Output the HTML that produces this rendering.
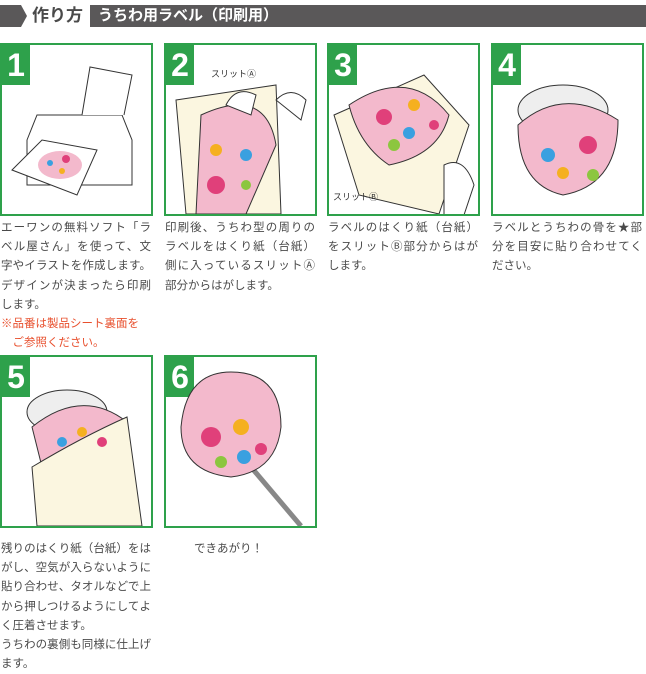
<!DOCTYPE html>
<html><head><meta charset="utf-8"><style>
body{margin:0;width:646px;height:667px;background:#fff;position:relative;overflow:hidden;font-family:"Liberation Sans","Noto Sans CJK JP",sans-serif}
.box{position:absolute;width:149px;height:169px;border:2px solid #2ea14b;background:#fff;overflow:hidden}
.num{position:absolute;left:0;top:0;width:28px;height:40px;background:#2ea14b;color:#fff;font-weight:bold;font-size:32px;line-height:40px;text-align:center;font-family:"Liberation Sans",sans-serif}
.txt{position:absolute;font-size:11.5px;line-height:19.2px;color:#4a4a4a;width:150px;white-space:nowrap}
.txt div.j{text-align:justify;text-align-last:justify}
.red{color:#e8502e}
svg{position:absolute;left:0;top:0}
</style></head><body>
<div style="position:absolute;left:0;top:5px;width:21px;height:22px;background:#5a5859"></div>
<div style="position:absolute;left:21px;top:5px;width:0;height:0;border-top:11px solid transparent;border-bottom:11px solid transparent;border-left:6px solid #5a5859"></div>
<div style="position:absolute;left:32px;top:3px;font-size:17px;font-weight:bold;color:#4a4a4a;line-height:26px">作り方</div>
<div style="position:absolute;left:90px;top:5px;width:556px;height:22px;background:#5a5859;color:#fff;font-size:15px;font-weight:bold;line-height:22px;padding-left:8px;box-sizing:border-box">うちわ用ラベル（印刷用）</div>

<div class="box" style="left:0;top:43px"><div class="num">1</div>
<svg width="149" height="169"><path d="M25 95 L35 70 L120 70 L130 95 L130 140 L25 140 Z" fill="#fff" stroke="#333"/><path d="M80 70 L88 22 L130 30 L122 70" fill="#fff" stroke="#333"/><path d="M10 125 L40 95 L95 105 L75 150 Z" fill="#fff" stroke="#333"/><ellipse cx="58" cy="120" rx="22" ry="14" fill="#f3b9cc"/><circle cx="48" cy="118" r="3" fill="#3aa0e0"/><circle cx="60" cy="126" r="3" fill="#f5b020"/><circle cx="64" cy="114" r="4" fill="#e0407a"/></svg></div>
<div class="box" style="left:164px;top:43px"><div class="num">2</div>
<svg width="149" height="169"><path d="M10 55 L110 40 L115 169 L20 169 Z" fill="#fbf6e0" stroke="#333"/><path d="M35 70 Q100 40 110 100 L80 169 L30 169 Z" fill="#f3b9cc" stroke="#333"/><circle cx="50" cy="140" r="9" fill="#e0407a"/><circle cx="80" cy="110" r="6" fill="#3aa0e0"/><circle cx="50" cy="105" r="6" fill="#f5b020"/><circle cx="80" cy="140" r="5" fill="#8cc63f"/><text x="45" y="32" font-size="9" fill="#333">スリットⒶ</text><path d="M60 60 q10-20 30-10 l-5 20z" fill="#fff" stroke="#333"/><path d="M110 55 q15-15 30 0 l-5 20z" fill="#fff" stroke="#333"/></svg></div>
<div class="box" style="left:327px;top:43px"><div class="num">3</div>
<svg width="149" height="169"><path d="M5 70 L95 30 L140 80 L110 169 L30 150 Z" fill="#fbf6e0" stroke="#333"/><path d="M20 60 Q80 20 120 70 Q110 110 60 120 Q30 100 20 60Z" fill="#f3b9cc" stroke="#333"/><circle cx="55" cy="72" r="8" fill="#e0407a"/><circle cx="85" cy="60" r="6" fill="#f5b020"/><circle cx="80" cy="88" r="6" fill="#3aa0e0"/><circle cx="65" cy="100" r="6" fill="#8cc63f"/><circle cx="105" cy="80" r="5" fill="#e0407a"/><text x="4" y="155" font-size="9" fill="#333">スリットⒷ</text><path d="M115 120 q20-10 30 20 l-10 30 -20 0z" fill="#fff" stroke="#333"/></svg></div>
<div class="box" style="left:491px;top:43px"><div class="num">4</div>
<svg width="149" height="169"><ellipse cx="70" cy="65" rx="45" ry="25" fill="#eee" stroke="#333"/><path d="M25 80 Q70 40 125 75 Q125 140 70 150 Q25 140 25 80Z" fill="#f3b9cc" stroke="#333"/><circle cx="55" cy="110" r="7" fill="#3aa0e0"/><circle cx="95" cy="100" r="9" fill="#e0407a"/><circle cx="70" cy="128" r="6" fill="#f5b020"/><circle cx="100" cy="130" r="6" fill="#8cc63f"/></svg></div>

<div class="txt" style="left:1px;top:219px"><div class="j">エーワンの無料ソフト「ラ</div><div class="j">ベル屋さん」を使って、文</div><div class="j">字やイラストを作成します。</div><div class="j">デザインが決まったら印刷</div><div>します。</div><div class="red">※品番は製品シート裏面を</div><div class="red">　ご参照ください。</div></div>
<div class="txt" style="left:165px;top:219px"><div class="j">印刷後、うちわ型の周りの</div><div class="j">ラベルをはくり紙（台紙）</div><div class="j">側に入っているスリットⒶ</div><div>部分からはがします。</div></div>
<div class="txt" style="left:328px;top:219px"><div class="j">ラベルのはくり紙（台紙）</div><div class="j">をスリットⒷ部分からはが</div><div>します。</div></div>
<div class="txt" style="left:492px;top:219px"><div class="j">ラベルとうちわの骨を★部</div><div class="j">分を目安に貼り合わせてく</div><div>ださい。</div></div>

<div class="box" style="left:0;top:355px"><div class="num">5</div>
<svg width="149" height="169"><ellipse cx="65" cy="55" rx="40" ry="22" fill="#eee" stroke="#333"/><path d="M30 70 Q80 30 125 65 L130 100 Q80 120 40 110Z" fill="#f3b9cc" stroke="#333"/><path d="M30 110 Q80 80 125 60 L140 169 L35 169 Z" fill="#fbf6e0" stroke="#333"/><circle cx="60" cy="85" r="5" fill="#3aa0e0"/><circle cx="80" cy="75" r="5" fill="#f5b020"/><circle cx="100" cy="85" r="5" fill="#e0407a"/></svg></div>
<div class="box" style="left:164px;top:355px"><div class="num">6</div>
<svg width="149" height="169"><line x1="85" y1="110" x2="135" y2="169" stroke="#888" stroke-width="5"/><path d="M15 70 Q20 15 65 15 Q115 15 115 70 Q110 115 65 120 Q15 115 15 70Z" fill="#f3b9cc" stroke="#333"/><circle cx="45" cy="80" r="10" fill="#e0407a"/><circle cx="75" cy="70" r="8" fill="#f5b020"/><circle cx="78" cy="100" r="7" fill="#3aa0e0"/><circle cx="95" cy="92" r="6" fill="#e0407a"/><circle cx="55" cy="105" r="6" fill="#8cc63f"/></svg></div>

<div class="txt" style="left:1px;top:540px"><div class="j">残りのはくり紙（台紙）をは</div><div class="j">がし、空気が入らないように</div><div class="j">貼り合わせ、タオルなどで上</div><div class="j">から押しつけるようにしてよ</div><div>く圧着させます。</div><div class="j">うちわの裏側も同様に仕上げ</div><div>ます。</div></div>
<div class="txt" style="left:194px;top:540px"><div>できあがり！</div></div>
</body></html>
